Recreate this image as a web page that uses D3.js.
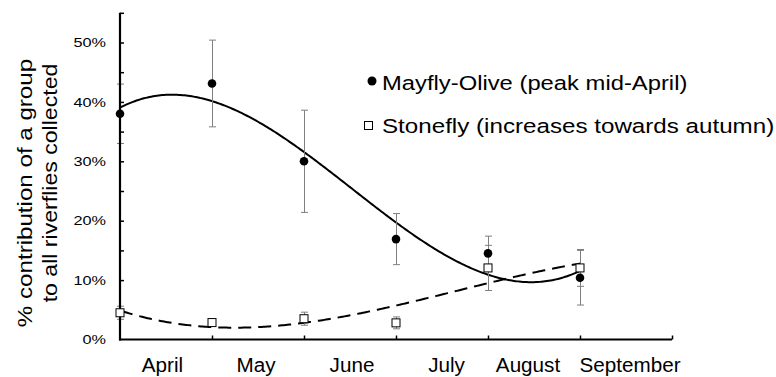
<!DOCTYPE html>
<html>
<head>
<meta charset="utf-8">
<script src="https://cdn.jsdelivr.net/npm/d3@7"></script>
<style>
  html, body { margin: 0; padding: 0; background: #fff; }
  svg { display: block; font-family: "Liberation Sans", Arial, Helvetica, sans-serif; }
</style>
</head>
<body>
<svg id="chart" width="776" height="377"></svg>
<script>
// Sampling months (one sample per month)
const months = ["April", "May", "June", "July", "August", "September"];

// Mean % contribution to all riverflies collected, with error (±)
const mayflyOlive    = [38.0, 43.1, 30.0, 16.9, 14.5, 10.4];
const mayflyOliveErr = [5.0, 7.3, 8.6, 4.3, 2.9, 4.6];
const stonefly       = [4.5, 2.85, 3.5, 2.8, 12.05, 12.05];
const stoneflyErr    = [1.1, 0.3, 1.1, 1.0, 3.8, 3.1];

// Y axis ticks (labelled every 10 %, minor marks every 5 %)
const yLabelTicks = [0, 10, 20, 30, 40, 50];
const yMarkTicks  = [5, 10, 15, 20, 25, 30, 35, 40, 45, 50, 55];

const legendLabels = ["Mayfly-Olive (peak mid-April)", "Stonefly (increases towards autumn)"];
const yTitleLines  = ["% contribution of a group", "to all riverflies collected"];

// ---- layout ----
const svg = d3.select("#chart");
const X0 = 120, X1 = 672, Y0 = 339.5;
const x = d3.scaleLinear().domain([0, months.length]).range([X0, X1]);
const y = d3.scaleLinear().domain([0, 55]).range([Y0, 12.8]);
const idx = d3.range(months.length);

// Least-squares polynomial trend line (order 3)
function polyFit(xs, ys, order) {
  const n = order + 1;
  const A = Array.from({length: n}, () => new Array(n + 1).fill(0));
  xs.forEach((xi, k) => {
    for (let r = 0; r < n; r++) {
      for (let c = 0; c < n; c++) A[r][c] += Math.pow(xi, r + c);
      A[r][n] += ys[k] * Math.pow(xi, r);
    }
  });
  for (let i = 0; i < n; i++) {
    let p = i;
    for (let r = i + 1; r < n; r++) if (Math.abs(A[r][i]) > Math.abs(A[p][i])) p = r;
    [A[i], A[p]] = [A[p], A[i]];
    for (let r = 0; r < n; r++) {
      if (r === i) continue;
      const f = A[r][i] / A[i][i];
      for (let c = i; c <= n; c++) A[r][c] -= f * A[i][c];
    }
  }
  const coef = A.map((row, i) => row[n] / row[i]);
  return t => coef.reduce((s, a, k) => s + a * Math.pow(t, k), 0);
}

// Text helper: horizontally widened text, anchored at (px, py)
function addText(parent, px, py, str, size, sx, anchor, rotate) {
  const g = parent.append("g")
    .attr("transform", `translate(${px},${py})` + (rotate ? ` rotate(${rotate})` : "") + ` scale(${sx},1)`);
  g.append("text")
    .attr("text-anchor", anchor)
    .attr("font-size", size)
    .attr("fill", "#000")
    .text(str);
  return g;
}

// ---- trend lines ----
const line = d3.line().x(d => x(d[0])).y(d => y(d[1]));
const samples = d3.range(0, 5.0001, 0.02);

const fitMay = polyFit(idx, mayflyOlive, 3);
const fitSto = polyFit(idx, stonefly, 3);

svg.append("path")
  .datum(samples.map(t => [t, fitMay(t)]))
  .attr("d", line)
  .attr("fill", "none").attr("stroke", "#000").attr("stroke-width", 2);

svg.append("path")
  .datum(samples.map(t => [t, fitSto(t)]))
  .attr("d", line)
  .attr("fill", "none").attr("stroke", "#000").attr("stroke-width", 2)
  .attr("stroke-dasharray", "13,7");

// ---- error bars ----
function errorBars(vals, errs) {
  const g = svg.append("g").attr("stroke", "#7f7f7f").attr("stroke-width", 1).attr("fill", "none");
  idx.forEach(i => {
    const cx = Math.round(x(i)) + 0.5;
    const top = y(vals[i] + errs[i]), bot = y(vals[i] - errs[i]);
    g.append("line").attr("x1", cx).attr("x2", cx).attr("y1", top).attr("y2", bot);
    g.append("line").attr("x1", cx - 3.5).attr("x2", cx + 3.5).attr("y1", top).attr("y2", top);
    g.append("line").attr("x1", cx - 3.5).attr("x2", cx + 3.5).attr("y1", bot).attr("y2", bot);
  });
}
errorBars(stonefly, stoneflyErr);
errorBars(mayflyOlive, mayflyOliveErr);

// ---- axes ----
const yAxis = d3.axisRight(y).tickValues(yMarkTicks).tickSize(4).tickFormat("");
const gy = svg.append("g").attr("transform", `translate(${X0},0)`).call(yAxis);
gy.select(".domain").remove();
gy.selectAll(".tick line").attr("stroke", "#000").attr("stroke-width", 1.5);

const xAxis = d3.axisTop(x).tickValues(d3.range(1, months.length + 1)).tickSize(4).tickFormat("");
const gx = svg.append("g").attr("transform", `translate(0,${Y0})`).call(xAxis);
gx.select(".domain").remove();
gx.selectAll(".tick line").attr("stroke", "#000").attr("stroke-width", 1.5);

svg.append("line").attr("x1", X0).attr("x2", X0).attr("y1", y(55)).attr("y2", Y0 + 1)
  .attr("stroke", "#000").attr("stroke-width", 2.2);
svg.append("line").attr("x1", X0 - 1).attr("x2", X1).attr("y1", Y0).attr("y2", Y0)
  .attr("stroke", "#000").attr("stroke-width", 2.2);

// y tick labels
yLabelTicks.forEach(v => addText(svg, 106, y(v) + 4.6, v + "%", 13, 1.25, "end"));

// month labels, centred in each month's interval
const monthNudge = [-3.5, -2, 2, 4.5, -6, 4];
months.forEach((m, i) => addText(svg, x(i + 0.5) + monthNudge[i], 372.3, m, 19.5, 1.06, "middle"));

// y axis title (two lines)
addText(svg, 32, 193, yTitleLines[0], 21, 1.15, "middle", -90);
addText(svg, 57, 183, yTitleLines[1], 21, 1.1, "middle", -90);

// ---- markers ----
svg.append("g").selectAll("rect").data(idx).join("rect")
  .attr("x", i => x(i) - 4).attr("y", i => y(stonefly[i]) - 4)
  .attr("width", 8).attr("height", 8)
  .attr("fill", "#fff").attr("stroke", "#000").attr("stroke-width", 1);

svg.append("g").selectAll("circle").data(idx).join("circle")
  .attr("cx", i => x(i)).attr("cy", i => y(mayflyOlive[i])).attr("r", 4.3)
  .attr("fill", "#000");

// ---- legend ----
svg.append("circle").attr("cx", 372).attr("cy", 81).attr("r", 4.5).attr("fill", "#000");
addText(svg, 382, 89.5, legendLabels[0], 19.5, 1.22, "start");
svg.append("rect").attr("x", 364.5).attr("y", 121.5).attr("width", 8).attr("height", 8)
  .attr("fill", "#fff").attr("stroke", "#000").attr("stroke-width", 1);
addText(svg, 382, 133, legendLabels[1], 19.5, 1.24, "start");
</script>
</body>
</html>
